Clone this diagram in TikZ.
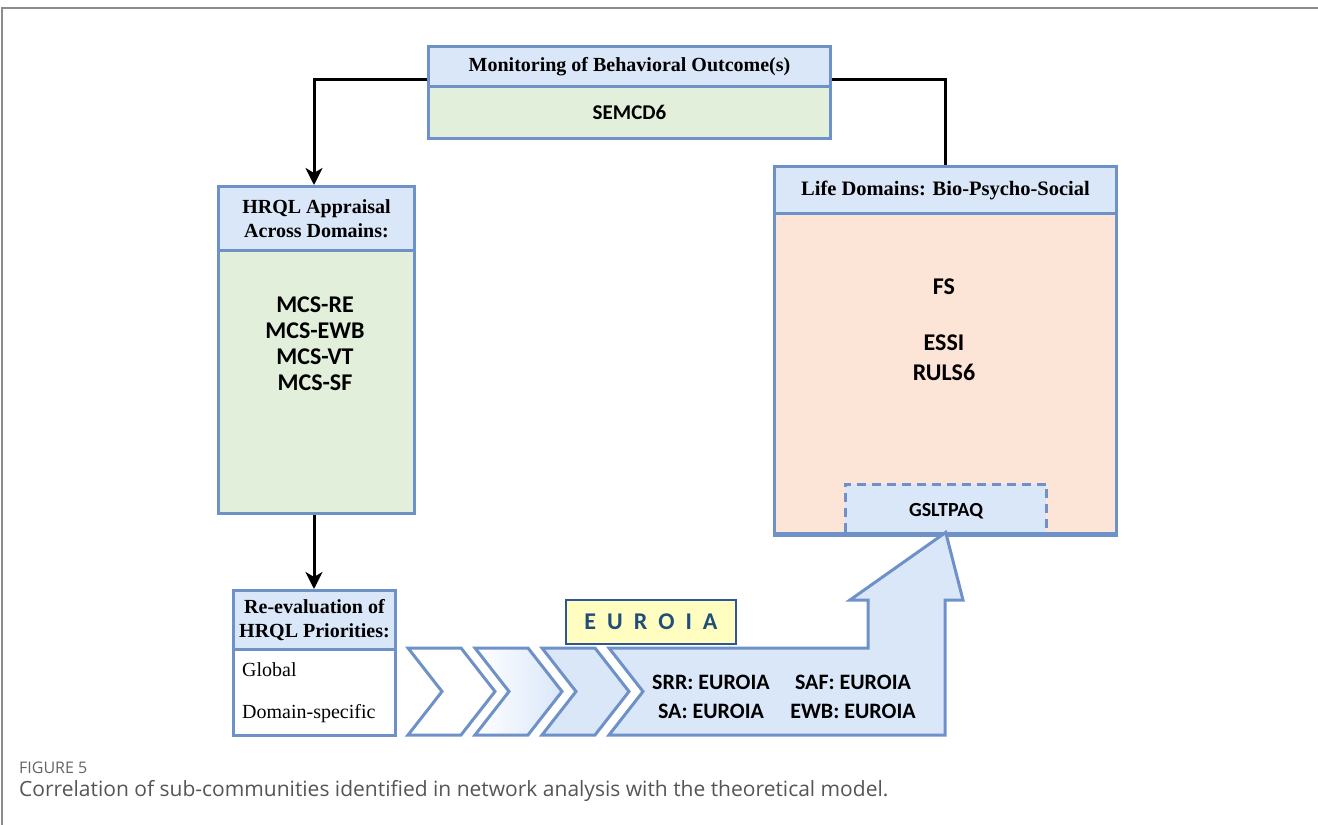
\documentclass[tikz,border=0pt]{standalone}
\usepackage{fontspec}
\setmainfont{Liberation Serif}
\newfontfamily\calfont{Carlito}
\newfontfamily\capfont{Open Sans}
\usetikzlibrary{arrows.meta,calc}
\definecolor{bline}{RGB}{110,145,200}
\definecolor{bfill}{RGB}{218,231,249}
\definecolor{gfill}{RGB}{226,239,218}
\definecolor{pfill}{RGB}{252,228,214}
\definecolor{yfill}{RGB}{255,253,192}
\definecolor{ydark}{RGB}{46,85,151}
\definecolor{ytext}{RGB}{31,78,121}
\definecolor{frame}{RGB}{140,140,140}
\tikzset{
  box/.style={draw=bline, line width=3pt, inner sep=0pt, anchor=north west},
  head/.style={box, fill=bfill, align=center, font=\fontsize{20}{25}\selectfont\bfseries},
  cal/.style={font=\fontsize{24}{26}\selectfont\calfont\bfseries, align=center, inner sep=0pt},
  conn/.style={line width=3pt, black},
  arr/.style={conn, -{Stealth[length=17pt,width=17pt,inset=5pt]}},
  chev/.style={draw=bline, line width=3pt, line join=miter},
}
\begin{document}
\begin{tikzpicture}[x=1pt,y=-1pt]
\useasboundingbox (0,0) rectangle (1318,825);
% frame
\draw[frame, line width=2pt] (2,825) -- (2,8) -- (1318,8);

% Monitoring box
\node[head, minimum width=402pt, minimum height=40pt] (mh) at (427,45) {Monitoring of Behavioral Outcome(s)};
\node[box, fill=gfill, minimum width=402pt, minimum height=52pt] (mb) at (427,85) {};
\node[cal, font=\fontsize{21}{24}\selectfont\calfont\bfseries] (semcd) at (mb.center) {SEMCD6};

% HRQL box
\node[head, minimum width=196pt, minimum height=64pt] (hh) at (217,185) {HRQL Appraisal\\[-1pt]Across Domains:};
\node[box, fill=gfill, minimum width=196pt, minimum height=263pt] (hb) at (217,249) {};
\node[cal] (mcs) at (315,344) {MCS-RE\\MCS-EWB\\MCS-VT\\MCS-SF};

% Re-evaluation box
\node[head, minimum width=162pt, minimum height=59pt] (rh) at (232,589) {Re-evaluation of\\[-1pt]HRQL Priorities:};
\node[box, fill=white, minimum width=162pt, minimum height=86pt] (rb) at (232,648) {};
\node[anchor=west, inner sep=0pt, font=\fontsize{20}{22}\selectfont] (glob) at (242,670) {Global};
\node[anchor=west, inner sep=0pt, font=\fontsize{20}{22}\selectfont] (dom) at (242,714) {Domain-specific};

% Life Domains box
\node[head, font=\fontsize{20.5}{25}\selectfont\bfseries, minimum width=342pt, minimum height=47pt] (lh) at (773,165) {Life Domains: Bio-Psycho-Social};
\node[box, fill=pfill, minimum width=342pt, minimum height=320pt] (lb) at (773,212) {};
\node[cal] (fs) at (944,287) {FS};
\node[cal, font=\fontsize{24}{30}\selectfont\calfont\bfseries] (essi) at (944,358) {ESSI\\RULS6};
\node[anchor=north west, fill=bfill, minimum width=201pt, minimum height=48pt, inner sep=0pt] (gs) at (845,484) {};
\node[cal, font=\fontsize{20}{24}\selectfont\calfont\bfseries] (gst) at (946,511) {GSLTPAQ};
\draw[bline, line width=3pt, dash pattern=on 9pt off 6pt] (gs.south west) -- (gs.north west) -- (gs.north east) -- (gs.south east);
\draw[bline, line width=3pt] (lb.south west) -- (lb.south east);

% connectors
\draw[conn] (mh.west |- {(0,79)}) -| (314,92);
\draw[arr] (314,90) -- (hh.north -| 314,0);
\draw[conn] (mh.east |- {(0,79)}) -| (lh.north);
\draw[arr] (hb.south -| 314,0) -- (rh.north -| 314,0);

% chevrons
\draw[chev, fill=white] (408,648) -- ++(53,0) -- ++(34,43.5) -- ++(-34,43.5) -- ++(-53,0) -- ++(34,-43.5) -- cycle;
\draw[chev, left color=white, right color=bfill] (475,648) -- ++(53,0) -- ++(34,43.5) -- ++(-34,43.5) -- ++(-53,0) -- ++(34,-43.5) -- cycle;
\draw[chev, fill=bfill] (542,648) -- ++(53,0) -- ++(34,43.5) -- ++(-34,43.5) -- ++(-53,0) -- ++(34,-43.5) -- cycle;
% big arrow
\draw[chev, fill=bfill] (609,648) -- (868,648) -- (868,600) -- (850,600) -- (gs.south) -- (963,600) -- (945,600) -- (945,735) -- (609,735) -- (643,691.5) -- cycle;
\node[cal, font=\fontsize{22}{26}\selectfont\calfont\bfseries] (srr) at (711,682) {SRR: EUROIA};
\node[cal, font=\fontsize{22}{26}\selectfont\calfont\bfseries] (sa) at (711,711) {SA: EUROIA};
\node[cal, font=\fontsize{22}{26}\selectfont\calfont\bfseries] (saf) at (853,682) {SAF: EUROIA};
\node[cal, font=\fontsize{22}{26}\selectfont\calfont\bfseries] (ewb) at (853,711) {EWB: EUROIA};

% EUROIA label
\node[anchor=north west, draw=ydark, line width=2pt, fill=yfill, minimum width=170pt, minimum height=44pt, inner sep=0pt,
  font=\fontsize{24}{26}\selectfont\calfont\bfseries, text=ytext] (eur) at (565,599) {E\hspace{11pt}U\hspace{11pt}R\hspace{11pt}O\hspace{11pt}I\hspace{11pt}A};

% caption
\node[anchor=west, inner sep=0pt, font=\fontsize{16}{18}\selectfont\capfont, text={rgb,255:red,100;green,100;blue,100}] (fig) at (19,768) {FIGURE 5};
\node[anchor=west, inner sep=0pt, font=\fontsize{21}{24}\selectfont\capfont, text={rgb,255:red,85;green,85;blue,85}] (cap) at (19,791) {Correlation of sub-communities identified in network analysis with the theoretical model.};
\end{tikzpicture}
\end{document}
